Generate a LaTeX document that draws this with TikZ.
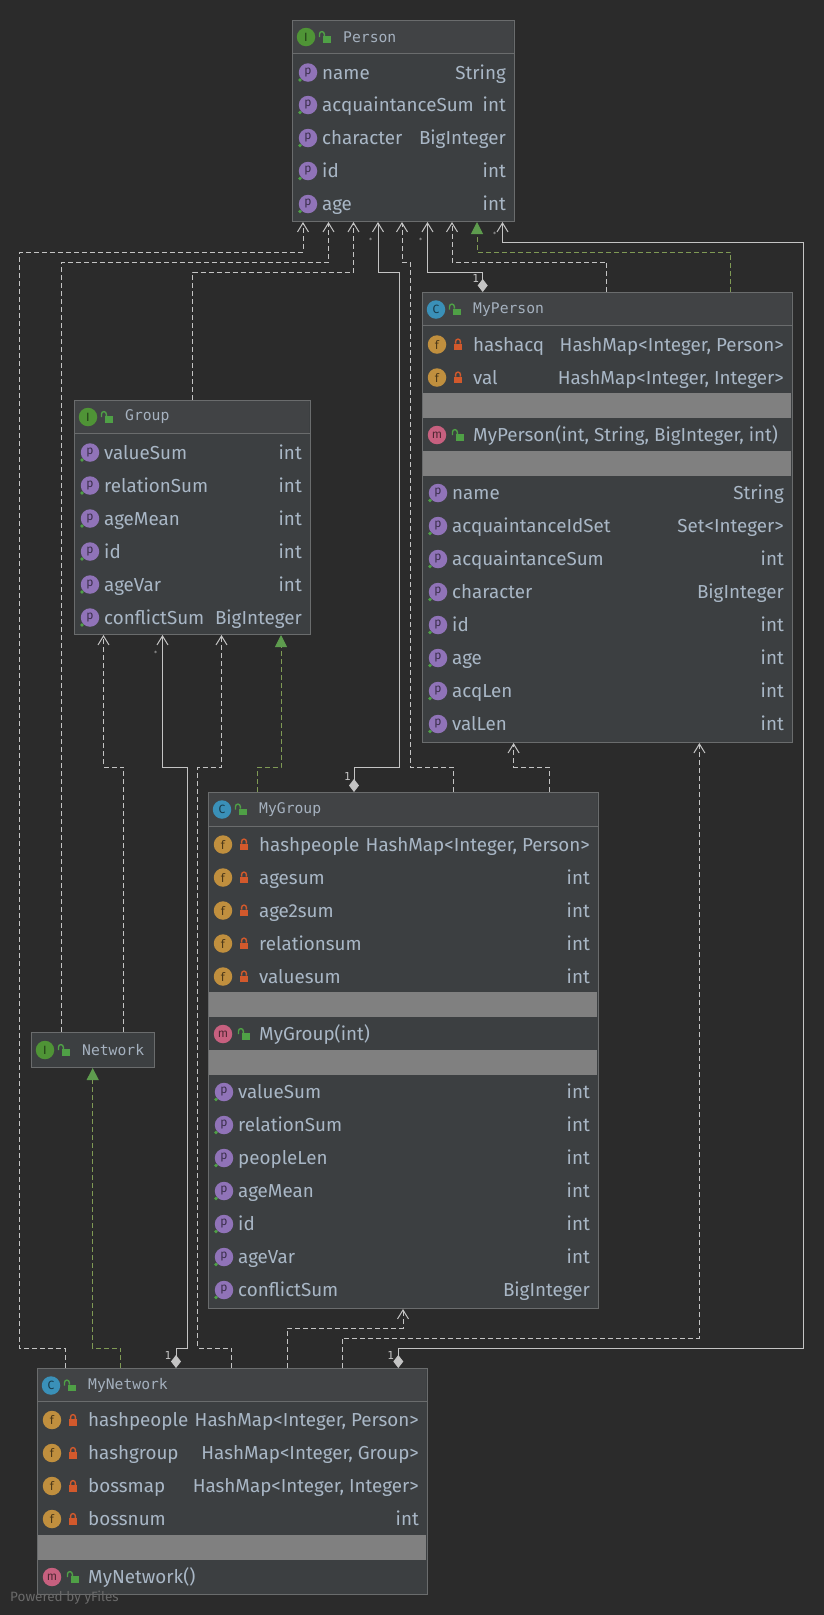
\documentclass[tikz,border=0pt]{standalone}
\usepackage{fontspec}
\setmainfont{Fira Sans}
\newfontfamily\monofont{DejaVu Sans Mono}
\usetikzlibrary{arrows.meta}
\definecolor{bgcol}{HTML}{2B2B2B}
\definecolor{boxcol}{HTML}{3C3F41}
\definecolor{headcol}{HTML}{414345}
\definecolor{edgecol}{HTML}{6A6C6D}
\definecolor{bandcol}{HTML}{808080}
\definecolor{txtcol}{HTML}{A9B7C6}
\definecolor{linecol}{HTML}{C4C4C4}
\definecolor{greencol}{HTML}{5E9C4E}
\definecolor{olivecol}{HTML}{7F9A55}
\definecolor{propcol}{HTML}{9073B8}
\definecolor{fieldcol}{HTML}{C08F3E}
\definecolor{methcol}{HTML}{C7607F}
\definecolor{classcol}{HTML}{3A90B8}
\definecolor{intcol}{HTML}{4F9436}
\definecolor{lockcol}{HTML}{D2592C}
\definecolor{unlockcol}{HTML}{4FA046}
\tikzset{
  lockshut/.pic={\fill[lockcol] (-4,-1) rectangle (4,5.5);
    \draw[lockcol,line width=1.4pt] (-2.4,-1) -- (-2.4,-3) arc[start angle=180,end angle=360,radius=2.4] -- (2.4,-1);},
  lockopen/.pic={\fill[unlockcol] (-2.5,-1) rectangle (5.5,5.5);
    \draw[unlockcol,line width=1.4pt] (-5.5,0) -- (-5.5,-3) arc[start angle=180,end angle=360,radius=2.4] -- (-0.7,-1);}
}
\newcommand{\proprow}[6]{%
  \node[icon,fill=propcol,text=propcol!40!black] (#1i) at (#2+16,#3) {p};
  \fill[unlockcol] (#2+8,#3+7.5) circle[radius=1.8];
  \node[lbl] (#1) at (#2+30,#3+6.5) {#4};
  \node[typ] (#1t) at (#5,#3+6.5) {#6};}
\newcommand{\fieldrow}[6]{%
  \node[icon,fill=fieldcol,text=fieldcol!40!black] (#1i) at (#2+15,#3) {f};
  \pic at (#2+36,#3) {lockshut};
  \node[lbl] (#1) at (#2+51,#3+6.5) {#4};
  \node[typ] (#1t) at (#5,#3+6.5) {#6};}
\newcommand{\methrow}[4]{%
  \node[icon,fill=methcol,text=methcol!40!black] (#1i) at (#2+15,#3) {m};
  \pic at (#2+36,#3) {lockopen};
  \node[lbl] (#1) at (#2+51,#3+6.5) {#4};}
\newcommand{\titlerow}[6]{%
  \node[icon,fill=#2,text=#2!40!black] (#1i) at (#3+14,#4) {#5};
  \pic at (#3+33,#4) {lockopen};
  \node[ttl] (#1t) at (#3+51,#4) {#6};}
\begin{document}
\begin{tikzpicture}[
  x=1pt,y=-1pt,
  box/.style={draw=edgecol,fill=boxcol,line width=1pt,anchor=north west,inner sep=0pt},
  icon/.style={circle,inner sep=0pt,minimum size=18.5pt,font=\fontsize{12}{12}\selectfont},
  lbl/.style={anchor=base west,inner sep=0pt,text=txtcol,font=\fontsize{18.8}{19}\selectfont},
  typ/.style={anchor=base east,inner sep=0pt,text=txtcol,font=\fontsize{18.8}{19}\selectfont},
  ttl/.style={anchor=west,inner sep=0pt,text=txtcol!90!gray,font=\monofont\fontsize{14.7}{14.7}\selectfont},
  band/.style={fill=bandcol},
  head/.style={fill=headcol},
  sep/.style={draw=edgecol,line width=0.8pt},
  card/.style={inner sep=0pt,text=linecol,font=\monofont\fontsize{11}{11}\selectfont},
  star/.style={inner sep=0pt,text=linecol,font=\monofont\fontsize{6}{6}\selectfont},
  dep/.style={draw=linecol,line width=1pt,dash pattern=on 5pt off 3pt,-{Straight Barb[length=9pt,width=11pt]}},
  use/.style={draw=linecol,line width=1pt,{Diamond[length=13pt,width=10pt,fill=linecol]}-{Straight Barb[length=9pt,width=11pt]}},
  impl/.style={draw=olivecol,line width=1pt,dash pattern=on 5pt off 3pt,-{Triangle[length=12pt,width=12pt,fill=greencol,color=greencol]}}
]
\useasboundingbox (0,0) rectangle (824,1615);
\fill[bgcol] (0,0) rectangle (824,1615);

% boxes
\node[box,minimum width=222.5pt,minimum height=201pt] (Person) at (291.5,20) {};
\fill[head] (292.5,21) rectangle (513,53);
\draw[sep] (291.5,53) -- (514,53);
\titlerow{perT}{intcol}{292}{37}{I}{Person}
\proprow{p1}{292}{72.5}{name}{506}{String}
\proprow{p2}{292}{105}{acquaintanceSum}{506}{int}
\proprow{p3}{292}{138}{character}{506}{BigInteger}
\proprow{p4}{292}{171}{id}{506}{int}
\proprow{p5}{292}{204}{age}{506}{int}

\node[box,minimum width=370.5pt,minimum height=450pt] (MyPerson) at (421.5,292) {};
\fill[head] (422.5,293) rectangle (791,325);
\draw[sep] (421.5,325) -- (792,325);
\titlerow{mpT}{classcol}{422}{309.5}{C}{MyPerson}
\fieldrow{mf1}{422}{344.5}{hashacq}{784}{HashMap<Integer, Person>}
\fieldrow{mf2}{422}{377.5}{val}{784}{HashMap<Integer, Integer>}
\fill[band] (422.5,393) rectangle (791,418);
\methrow{mm1}{422}{435}{MyPerson(int, String, BigInteger, int)}
\fill[band] (422.5,451) rectangle (791,476);
\proprow{q1}{422}{493}{name}{784}{String}
\proprow{q2}{422}{526}{acquaintanceIdSet}{784}{Set<Integer>}
\proprow{q3}{422}{559}{acquaintanceSum}{784}{int}
\proprow{q4}{422}{592}{character}{784}{BigInteger}
\proprow{q5}{422}{625}{id}{784}{int}
\proprow{q6}{422}{658}{age}{784}{int}
\proprow{q7}{422}{691}{acqLen}{784}{int}
\proprow{q8}{422}{724}{valLen}{784}{int}

\node[box,minimum width=236pt,minimum height=234pt] (Group) at (74,400) {};
\fill[head] (75,401) rectangle (309,433);
\draw[sep] (74,433) -- (310,433);
\titlerow{grT}{intcol}{74}{417}{I}{Group}
\proprow{g1}{74}{452.5}{valueSum}{302}{int}
\proprow{g2}{74}{485.5}{relationSum}{302}{int}
\proprow{g3}{74}{518.5}{ageMean}{302}{int}
\proprow{g4}{74}{551.5}{id}{302}{int}
\proprow{g5}{74}{584.5}{ageVar}{302}{int}
\proprow{g6}{74}{617.5}{conflictSum}{302}{BigInteger}

\node[box,minimum width=390pt,minimum height=516pt] (MyGroup) at (208,792) {};
\fill[head] (209,793) rectangle (597,826);
\draw[sep] (208,826) -- (598,826);
\titlerow{mgT}{classcol}{208}{809.5}{C}{MyGroup}
\fieldrow{gf1}{208}{844.5}{hashpeople}{590}{HashMap<Integer, Person>}
\fieldrow{gf2}{208}{877.5}{agesum}{590}{int}
\fieldrow{gf3}{208}{910.5}{age2sum}{590}{int}
\fieldrow{gf4}{208}{943.5}{relationsum}{590}{int}
\fieldrow{gf5}{208}{976.5}{valuesum}{590}{int}
\fill[band] (209,992) rectangle (597,1017);
\methrow{gm1}{208}{1034}{MyGroup(int)}
\fill[band] (209,1050) rectangle (597,1075);
\proprow{h1}{208}{1092}{valueSum}{590}{int}
\proprow{h2}{208}{1125}{relationSum}{590}{int}
\proprow{h3}{208}{1158}{peopleLen}{590}{int}
\proprow{h4}{208}{1191}{ageMean}{590}{int}
\proprow{h5}{208}{1224}{id}{590}{int}
\proprow{h6}{208}{1257}{ageVar}{590}{int}
\proprow{h7}{208}{1290}{conflictSum}{590}{BigInteger}

\node[box,minimum width=123.5pt,minimum height=35pt] (Network) at (30.5,1032) {};
\titlerow{nwT}{intcol}{31}{1050}{I}{Network}

\node[box,minimum width=390pt,minimum height=226pt] (MyNetwork) at (37,1368) {};
\fill[head] (38,1369) rectangle (426,1401);
\draw[sep] (37,1401) -- (427,1401);
\titlerow{mnT}{classcol}{37}{1385.5}{C}{MyNetwork}
\fieldrow{nf1}{37}{1420}{hashpeople}{419}{HashMap<Integer, Person>}
\fieldrow{nf2}{37}{1453}{hashgroup}{419}{HashMap<Integer, Group>}
\fieldrow{nf3}{37}{1486}{bossmap}{419}{HashMap<Integer, Integer>}
\fieldrow{nf4}{37}{1519}{bossnum}{419}{int}
\fill[band] (38,1535) rectangle (426,1560);
\methrow{nm1}{37}{1577}{MyNetwork()}

% ports
\coordinate (pers1) at ([xshift=11.5pt]Person.south west);
\coordinate (pers2) at ([xshift=37pt]Person.south west);
\coordinate (pers3) at ([xshift=62pt]Person.south west);
\coordinate (pers4) at ([xshift=86.5pt]Person.south west);
\coordinate (pers5) at ([xshift=110.5pt]Person.south west);
\coordinate (pers6) at ([xshift=136pt]Person.south west);
\coordinate (pers7) at ([xshift=160.5pt]Person.south west);
\coordinate (pers8) at ([xshift=185.5pt]Person.south west);
\coordinate (pers9) at ([xshift=211pt]Person.south west);
\coordinate (grp1) at ([xshift=29.5pt]Group.south west);
\coordinate (grp2) at ([xshift=88.5pt]Group.south west);
\coordinate (grp3) at ([xshift=147.5pt]Group.south west);
\coordinate (grp4) at ([xshift=207pt]Group.south west);
\coordinate (grpT) at ([xshift=118.6pt]Group.north west);
\coordinate (mp1) at ([xshift=61.2pt]MyPerson.north west);
\coordinate (mp2) at ([xshift=185.2pt]MyPerson.north west);
\coordinate (mp3) at ([xshift=309.2pt]MyPerson.north west);
\coordinate (mpB1) at ([xshift=92.1pt]MyPerson.south west);
\coordinate (mpB2) at ([xshift=277.9pt]MyPerson.south west);
\coordinate (mg1) at ([xshift=49.5pt]MyGroup.north west);
\coordinate (mg2) at ([xshift=146pt]MyGroup.north west);
\coordinate (mg3) at ([xshift=245pt]MyGroup.north west);
\coordinate (mg4) at ([xshift=341pt]MyGroup.north west);
\coordinate (mgB) at ([xshift=195pt]MyGroup.south west);
\coordinate (nw1) at ([xshift=31.3pt]Network.north west);
\coordinate (nw2) at ([xshift=93pt]Network.north west);
\coordinate (nwB) at ([xshift=62.2pt]Network.south west);
\coordinate (mn1) at ([xshift=28pt]MyNetwork.north west);
\coordinate (mn2) at ([xshift=83.7pt]MyNetwork.north west);
\coordinate (mn3) at ([xshift=139pt]MyNetwork.north west);
\coordinate (mn4) at ([xshift=194.5pt]MyNetwork.north west);
\coordinate (mn5) at ([xshift=250pt]MyNetwork.north west);
\coordinate (mn6) at ([xshift=305pt]MyNetwork.north west);
\coordinate (mn7) at ([xshift=361.3pt]MyNetwork.north west);

% connectors
\draw[dep] (mn1) |- (19.5,1348) -- (19.5,252) -| (pers1);
\draw[dep] (nw1) -- (61.8,262) -| (pers2);
\draw[dep] (grpT) -- (192.6,272) -| (pers3);
\draw[use] (mg2) |- (399.3,767) -- (399.3,272) -| (pers4);
\draw[dep] (mg3) |- (410.3,767) -- (410.3,262) -| (pers5);
\draw[use] (mp1) |- (427.5,272) -- (pers6);
\draw[dep] (mp2) |- (452,262) -- (pers7);
\draw[impl] (mp3) |- (477,252) -- (pers8);
\draw[use] (mn7) |- (803.7,1348) -- (803.7,242.7) -| (pers9);
\draw[dep] (nw2) |- (103.5,767) -- (grp1);
\draw[use] (mn3) |- (187,1348) -- (187,767) -| (grp2);
\draw[dep] (mn4) |- (197.5,1348) -- (197.5,767) -| (grp3);
\draw[impl] (mg1) |- (281,767) -- (grp4);
\draw[dep] (mg4) |- (513.6,767) -- (mpB1);
\draw[dep] (mn6) |- (699.4,1338) -- (mpB2);
\draw[dep] (mn5) |- (403,1328) -- (mgB);
\draw[impl] (mn2) |- (92.7,1348) -- (nwB);

% multiplicities
\node[card] (m1) at (475.7,278) {1};
\node[card] (m2) at (347.5,776) {1};
\node[card] (m3) at (168,1355) {1};
\node[card] (m4) at (390.7,1355) {1};
\node[star] (s1) at (370.7,240) {*};
\node[star] (s2) at (420.7,240) {*};
\node[star] (s3) at (494.7,234) {*};
\node[star] (s4) at (155.7,653) {*};

\node[anchor=west,inner sep=0pt,text=gray!75!bgcol,font=\fontsize{13.5}{13.5}\selectfont] (yf) at (10,1598) {Powered by yFiles};
\end{tikzpicture}
\end{document}
